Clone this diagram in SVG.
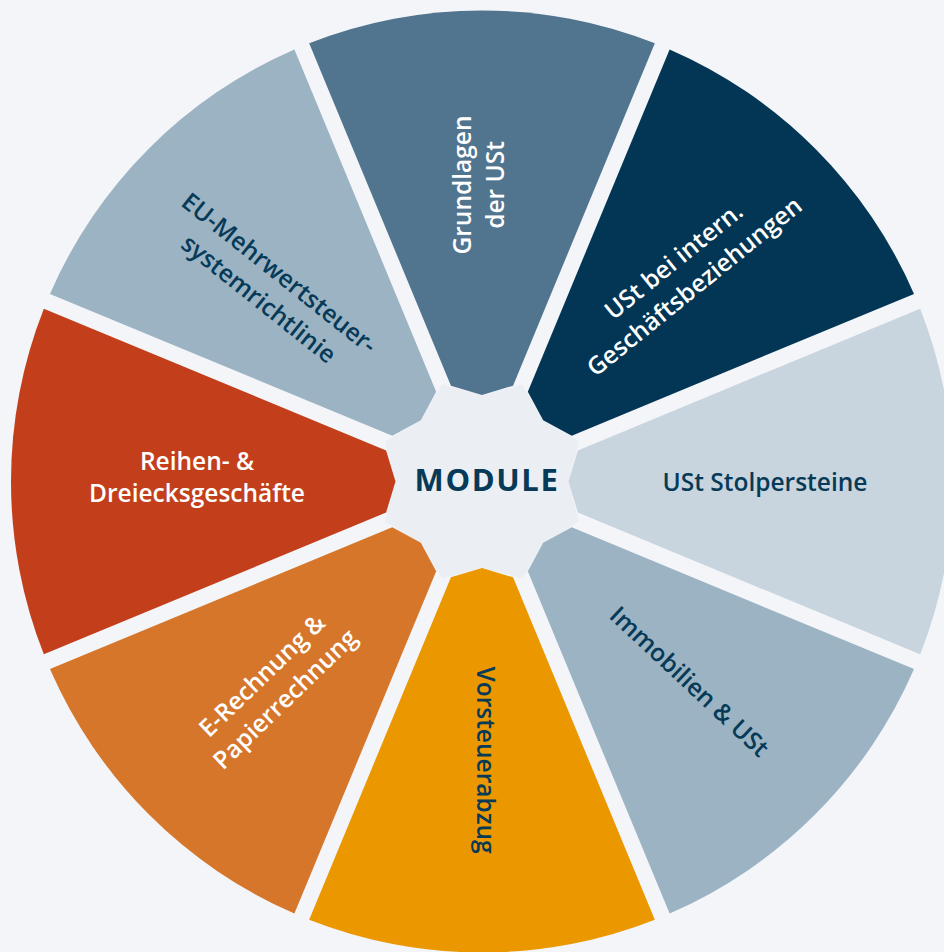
<svg xmlns="http://www.w3.org/2000/svg" width="944" height="952" viewBox="0 0 944 952">
<style>
.lbl{font-family:"Open Sans","Liberation Sans",sans-serif;font-weight:600;font-size:24.5px;text-anchor:middle}
.w{fill:#ffffff}
.d{fill:#063a57}
.ttl{font-family:"Open Sans","Liberation Sans",sans-serif;font-weight:700;font-size:31px;letter-spacing:1.6px;fill:#063a57;text-anchor:middle}
</style>
<defs>
<path id="seg" d="M95.87,-31.05 L86.5,0 L95.87,31.05 L438.15,172.83 A471,471 0 0,0 438.15,-172.83 Z"/>
</defs>
<rect width="944" height="952" fill="#f3f5f9"/>
<g id="hub">
<polygon fill="#ebeff4" points="568.5,481.5 579,521.7 543.2,542.7 522.2,578.5 482,568 441.8,578.5 420.8,542.7 385,521.7 395.5,481.5 385,441.3 420.8,420.3 441.8,384.5 482,395 522.2,384.5 543.2,420.3 579,441.3"/>
<text class="ttl" x="487" y="491">MODULE</text>
</g>
<g id="grundlagen">
<use href="#seg" transform="translate(482,481.5) rotate(-90)" fill="#51758f"/>
<g transform="translate(479,185) rotate(-90)">
<text class="lbl w" x="0" y="-8">Grundlagen</text>
<text class="lbl w" x="0" y="25">der USt</text>
</g>
</g>
<g id="intern">
<use href="#seg" transform="translate(482,481.5) rotate(-45)" fill="#023654"/>
<g transform="translate(689,280) rotate(-39)">
<text class="lbl w" x="0" y="-16">USt bei intern.</text>
<text class="lbl w" x="0" y="17">Geschäftsbeziehungen</text>
</g>
</g>
<g id="stolpersteine">
<use href="#seg" transform="translate(482,481.5)" fill="#c8d4de"/>
<text class="lbl d" x="765" y="491">USt Stolpersteine</text>
</g>
<g id="immobilien">
<use href="#seg" transform="translate(482,481.5) rotate(45)" fill="#9bb3c3"/>
<g transform="translate(689,682) rotate(43)">
<text class="lbl d" x="0" y="8">Immobilien &amp; USt</text>
</g>
</g>
<g id="vorsteuer">
<use href="#seg" transform="translate(482,481.5) rotate(90)" fill="#eb9800"/>
<g transform="translate(477,760) rotate(90)">
<text class="lbl d" x="0" y="0">Vorsteuerabzug</text>
</g>
</g>
<g id="erechnung">
<use href="#seg" transform="translate(482,481.5) rotate(135)" fill="#d6762a"/>
<g transform="translate(279,693) rotate(-44)">
<text class="lbl w" x="0" y="-16">E-Rechnung &amp;</text>
<text class="lbl w" x="0" y="17">Papierrechnung</text>
</g>
</g>
<g id="reihen">
<use href="#seg" transform="translate(482,481.5) rotate(180)" fill="#c33f1b"/>
<text class="lbl w" x="197" y="470">Reihen- &amp;</text>
<text class="lbl w" x="197" y="502">Dreiecksgeschäfte</text>
</g>
<g id="eu">
<use href="#seg" transform="translate(482,481.5) rotate(225)" fill="#9bb3c3"/>
<g transform="translate(269,286) rotate(38.5)">
<text class="lbl d" x="0" y="-8">EU-Mehrwertsteuer-</text>
<text class="lbl d" x="0" y="25">systemrichtlinie</text>
</g>
</g>
</svg>
